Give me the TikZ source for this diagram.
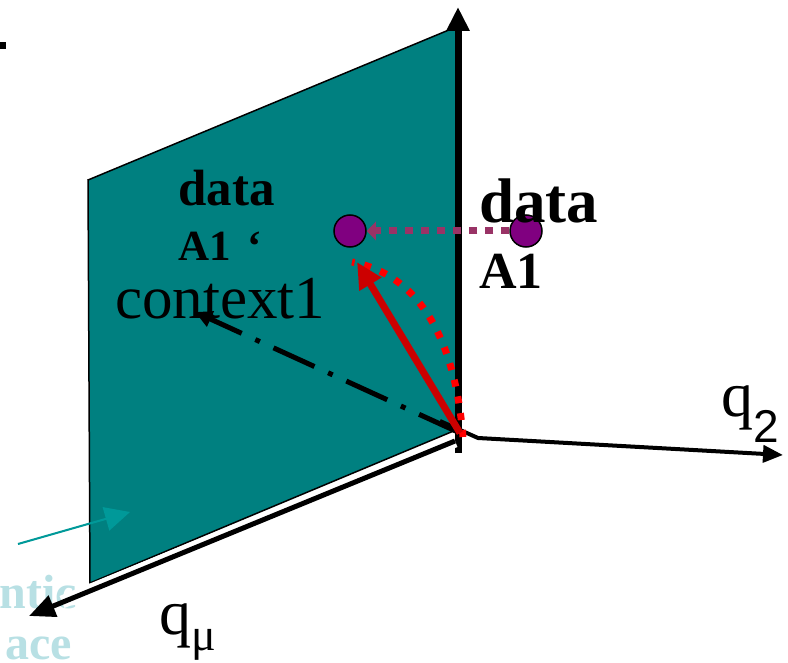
\documentclass[tikz,border=0pt]{standalone}
\usepackage{fontspec}
\setmainfont{Liberation Serif}
\newfontfamily\arialfont{Liberation Sans}
\usetikzlibrary{arrows.meta}

\definecolor{planeteal}{HTML}{008080}
\definecolor{dotpurple}{HTML}{800080}
\definecolor{linkplum}{HTML}{993366}
\definecolor{vecred}{HTML}{CC0000}
\definecolor{fadeblue}{HTML}{B8E0E4}
\definecolor{pointerteal}{HTML}{009999}

\newcommand{\fsz}[1]{\fontsize{#1}{#1}\selectfont}

\begin{document}
\begin{tikzpicture}[x=1pt, y=-1pt,
  axis/.style={draw=black, line width=#1},
  bigtip/.style={-{Triangle[length=24pt, width=22pt]}},
  datadot/.style={circle, draw=black, line width=1.5pt, fill=dotpurple, minimum size=32pt, inner sep=0pt},
  lbl/.style={anchor=base west, inner sep=0pt},
  boldlbl/.style={lbl, font=\bfseries\fsz{#1}},
  fadelbl/.style={anchor=base east, inner sep=0pt, text=fadeblue, font=\bfseries\fsz{48}}
]
\useasboundingbox (0,0) rectangle (788,663);

% semantic space (faded, behind everything)
\node[fadelbl] (lblsem) at (77,608) {ntic};
\node[fadelbl] (lblspace) at (72,659) {ace};

% the plane
\filldraw[fill=planeteal, draw=black, line width=1.5pt]
  (88,180) -- (456,27) -- (456,430) -- (90,583) -- cycle;

\coordinate (origin) at (460,433);
\coordinate (yfoot) at (458,453);
\coordinate (ytip) at (458,7);
\coordinate (qtwostart) at (440,421);
\coordinate (qtwobend) at (478,438);
\coordinate (qtwotip) at (783,455);
\coordinate (qmustart) at (455,441);
\coordinate (qmugap) at (62,602);
\coordinate (qmutip) at (29,616);
\coordinate (ctxtip) at (195,312);
\coordinate (projtip) at (357,262);
\coordinate (arcstart) at (463,437);
\coordinate (arcend) at (352,262);
\coordinate (pointerfoot) at (18,544);
\coordinate (pointertip) at (130,512);

% axes
\draw[axis=7pt, bigtip] (yfoot) -- (ytip);
\draw[white, line width=13pt] (qmustart) -- (qmugap);
\draw[axis=5pt, -{Triangle[length=26pt, width=22pt]}] (qmustart) -- (qmutip);
\draw[axis=4pt, -{Triangle[length=20pt, width=17pt]}] (qtwostart) -- (qtwobend) -- (qtwotip);

% context direction
\draw[line width=5pt, dash pattern=on 45pt off 15pt on 5pt off 15pt,
  -{Triangle[length=17pt, width=16pt]}] (origin) -- (ctxtip);

% projection
\draw[red, line width=7pt, dash pattern=on 7pt off 10pt]
  (arcstart) .. controls (455,340) and (420,275) .. (arcend);
\draw[vecred, line width=7pt, -{Triangle[length=26pt, width=24pt]}] (origin) -- (projtip);

% data points
\node[datadot] (dataAonep) at (350,231) {};
\node[datadot] (dataAone) at (526,231) {};
\draw[linkplum, line width=7pt, dash pattern=on 8pt off 8pt,
  -{Triangle[length=9pt, width=18pt]}] (dataAone) -- (dataAonep);

% labels
\node[boldlbl=51] (lbldatap) at (178,206) {data};
\node[boldlbl=43] (lblAonep) at (178,261) {A1\hspace{6pt} ‘};
\node[lbl, font=\fsz{61}] (lblctx) at (115,319) {context1};
\node[boldlbl=63] (lbldata) at (479,223) {data};
\node[boldlbl=52] (lblAone) at (479,289) {A1};
\node[lbl, font=\fsz{64}] (lblqtwo) at (721,417) {q\raisebox{-25pt}{\arialfont\fsz{46}2}};
\node[lbl, font=\fsz{64}] (lblqmu) at (159,634) {q\raisebox{-16pt}{\fsz{46}μ}};

% pointer to the plane
\draw[pointerteal, line width=2pt, -{Triangle[length=25pt, width=24pt]}] (pointerfoot) -- (pointertip);

\fill (0,42) rectangle (6,49);
\end{tikzpicture}
\end{document}
